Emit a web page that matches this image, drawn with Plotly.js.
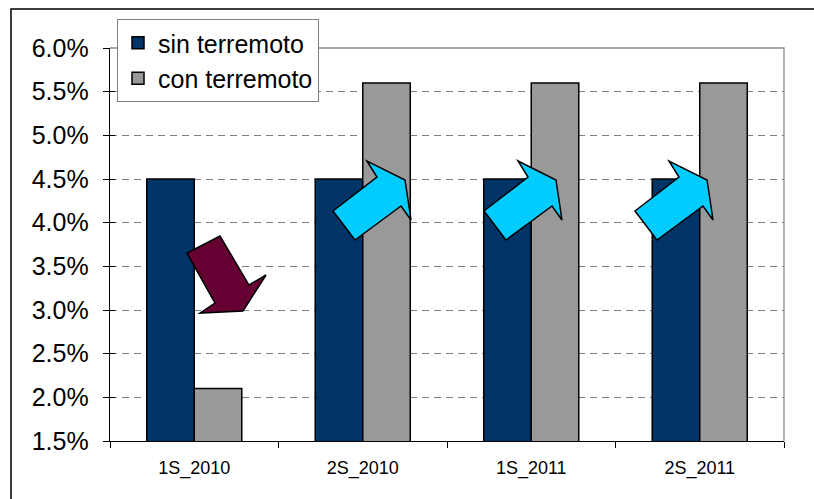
<!DOCTYPE html>
<html>
<head>
<meta charset="utf-8">
<script src="https://cdn.plot.ly/plotly-3.0.1.min.js"></script>
<style>html,body{margin:0;padding:0;background:#fff;}#chart{width:814px;height:499px;}</style>
</head>
<body>
<div id="chart"></div>
<script>
// Data
const categories = ["1S_2010", "2S_2010", "1S_2011", "2S_2011"];
const sinTerremoto = [0.045, 0.045, 0.045, 0.045];
const conTerremoto = [0.021, 0.056, 0.056, 0.056];
const seriesNames = ["sin terremoto", "con terremoto"];

// Layout geometry (pixels)
const W = 814, H = 499;
const L = 110, R = 784, T = 48, B = 441;
const px = x => (x - L) / (R - L);
const py = y => (B - y) / (B - T);
function poly(pts) {
  return pts.map((p, i) => (i ? 'L' : 'M') + px(p[0]).toFixed(4) + ',' + py(p[1]).toFixed(4)).join(' ') + ' Z';
}
function shift(pts, dx) { return pts.map(p => [p[0] + dx, p[1]]); }

const downArrow = [[187,253],[215,303],[200,313],[243,311],[266,275],[249,285],[220,236]];
const upArrow = [[333,211],[377,177],[367,161],[405,180],[411,220],[401,206],[355,240]];

const shapes = [
  // outer frame
  {type:'rect', xref:'paper', yref:'paper', x0:px(11), x1:px(830), y0:py(520), y1:py(9),
   line:{color:'#000', width:1.5}, fillcolor:'rgba(0,0,0,0)', layer:'below'},
  // plot area border (top & right gray)
  {type:'path', xref:'paper', yref:'paper', path:'M0,1 L1,1 L1,0', line:{color:'#8c8c8c', width:1.3}, layer:'between'},
  {type:'path', xref:'paper', yref:'paper', path:poly(downArrow), fillcolor:'#660033', line:{color:'#000', width:1.5}, layer:'above'},
  {type:'path', xref:'paper', yref:'paper', path:poly(upArrow), fillcolor:'#00CCFF', line:{color:'#000', width:1.5}, layer:'above'},
  {type:'path', xref:'paper', yref:'paper', path:poly(shift(upArrow,151)), fillcolor:'#00CCFF', line:{color:'#000', width:1.5}, layer:'above'},
  {type:'path', xref:'paper', yref:'paper', path:poly(shift(upArrow,302)), fillcolor:'#00CCFF', line:{color:'#000', width:1.5}, layer:'above'}
];

const traces = [
  {type:'bar', name:seriesNames[0], x:categories, y:sinTerremoto,
   marker:{color:'#003366', line:{color:'#000', width:1.5}}, hoverinfo:'skip'},
  {type:'bar', name:seriesNames[1], x:categories, y:conTerremoto,
   marker:{color:'#999999', line:{color:'#000', width:1.5}}, hoverinfo:'skip'},
  {type:'scatter', x:categories, y:sinTerremoto, yaxis:'y2', mode:'none', showlegend:false, hoverinfo:'skip'}
];

const layout = {
  width: W, height: H,
  margin: {l: L, r: W - R, t: T, b: H - B, pad: 0},
  paper_bgcolor: '#fff', plot_bgcolor: '#fff',
  font: {family: 'Liberation Sans, Arial, sans-serif', color: '#000'},
  barmode: 'group', bargap: 0.436, bargroupgap: 0,
  showlegend: true,
  legend: {x: px(117), y: py(19), xanchor: 'left', yanchor: 'top',
    bgcolor: '#fff', bordercolor: '#808080', borderwidth: 1,
    font: {size: 25, family: 'Liberation Sans, Arial, sans-serif', color:'#000'}, tracegroupgap: 0},
  xaxis: {type: 'category', showline: true, linecolor: '#000', linewidth: 1.3,
    ticks: 'outside', tickson: 'boundaries', ticklen: 6, tickcolor: '#000', tickwidth: 1,
    showgrid: false, zeroline: false, fixedrange: true,
    tickfont: {size: 18, family: 'Liberation Sans, Arial, sans-serif'}, ticklabelstandoff: 10},
  yaxis: {range: [0.015, 0.06], dtick: 0.005, tick0: 0.015, tickformat: '.1%',
    showline: true, linecolor: '#000', linewidth: 1.3,
    ticks: 'outside', ticklen: 6, tickcolor: '#000', tickwidth: 1,
    showgrid: true, gridcolor: '#7f7f7f', gridwidth: 1, griddash: '7px,5px',
    zeroline: false, fixedrange: true, ticklabelstandoff: 9,
    tickfont: {size: 25, family: 'Liberation Sans, Arial, sans-serif'}},
  yaxis2: {overlaying: 'y', range: [0.015, 0.06], dtick: 0.005, tick0: 0.015,
    ticks: 'inside', ticklen: 5, tickcolor: '#000', tickwidth: 1,
    showticklabels: false, showgrid: false, zeroline: false, showline: false, fixedrange: true},
  shapes: shapes
};

Plotly.newPlot('chart', traces, layout, {staticPlot: true, displayModeBar: false});
</script>
</body>
</html>
